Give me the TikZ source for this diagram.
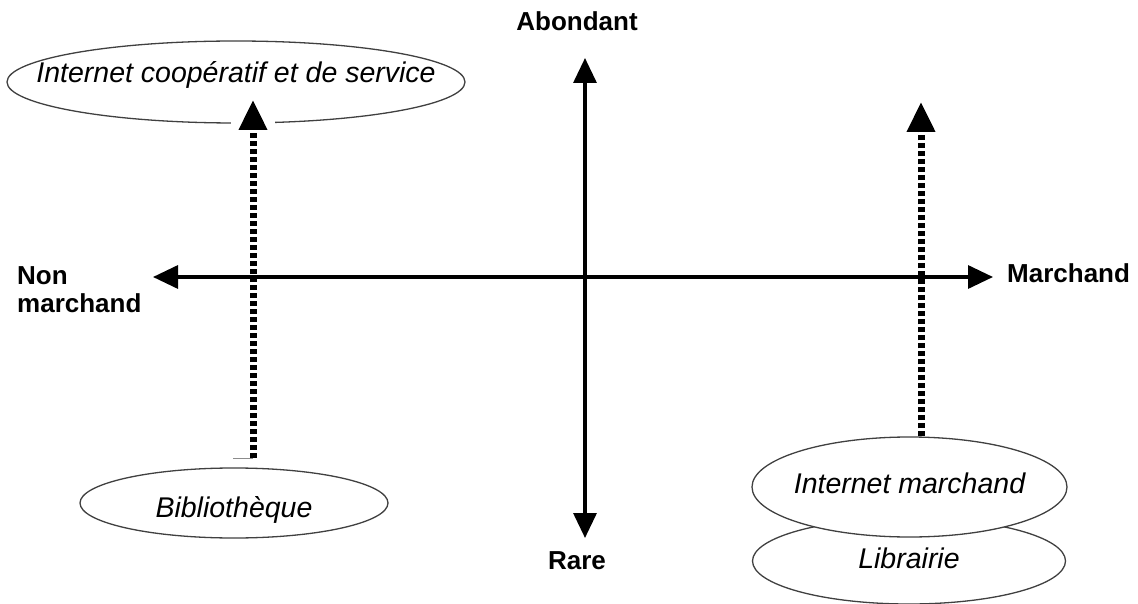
\documentclass[tikz,border=0pt]{standalone}
\usepackage{fontspec}
\setmainfont{Liberation Sans}
\usetikzlibrary{arrows.meta,shapes.geometric}
\begin{document}
\begin{tikzpicture}[x=1pt,y=-1pt,
  axis/.style={line width=3.3pt,{Triangle[length=25pt,width=23pt]}-{Triangle[length=25pt,width=23pt]}},
  dasharrow/.style={line width=7pt,dash pattern=on 5pt off 3pt,-{Triangle[length=30pt,width=27pt]}},
  oval/.style={ellipse,draw=black!75,line width=1.3pt,fill=white,inner xsep=-120pt,inner ysep=0pt,
    font=\fontsize{28.5}{30}\selectfont\itshape},
  axlabel/.style={font=\fontsize{26}{28}\selectfont\bfseries,inner sep=0pt}]
\useasboundingbox (0,0) rectangle (1138,604);

% ellipses
\node[oval, minimum width=458pt, minimum height=82pt, text height=8pt, text depth=6pt] (coop) at (236,82) {Internet coopératif et de service};
\node[oval, minimum width=308pt, minimum height=70pt, text height=28pt, text depth=0pt] (bib) at (234,503) {Bibliothèque};
\node[oval, minimum width=313pt, minimum height=86pt, text height=14pt, text depth=0pt] (lib) at (909,561) {Librairie};
\node[oval, minimum width=315pt, minimum height=100pt, text height=14pt, text depth=2pt] (im) at (909.5,487) {Internet marchand};

% dashed arrows
\coordinate (ltip) at (253,100);
\coordinate (ltail) at (253,458);
\coordinate (rtip) at (921,102);
\fill[white] ([xshift=-22pt]ltip) rectangle ([xshift=22pt,yshift=-28pt]ltip);
\draw[dasharrow] (ltail) -- (ltip);
\draw[dasharrow] (rtip |- im.north) -- (rtip);
\draw[black!45, line width=1pt] (ltail) -- ++(-20,0);

% axes
\coordinate (top) at (585,58);
\coordinate (bot) at (585,538);
\coordinate (west) at (153,277);
\coordinate (east) at (993,277);
\draw[axis] (bot) -- (top);
\draw[axis] (west) -- (east);

% axis labels
\node[axlabel, anchor=base] (abondant) at (577,31) {Abondant};
\node[axlabel, anchor=base] (rare) at (577,569) {Rare};
\node[axlabel, anchor=north west, align=left] (nonm) at (17,266) {Non\\marchand};
\node[axlabel, anchor=base west] (march) at (1007,283) {Marchand};
\end{tikzpicture}
\end{document}
